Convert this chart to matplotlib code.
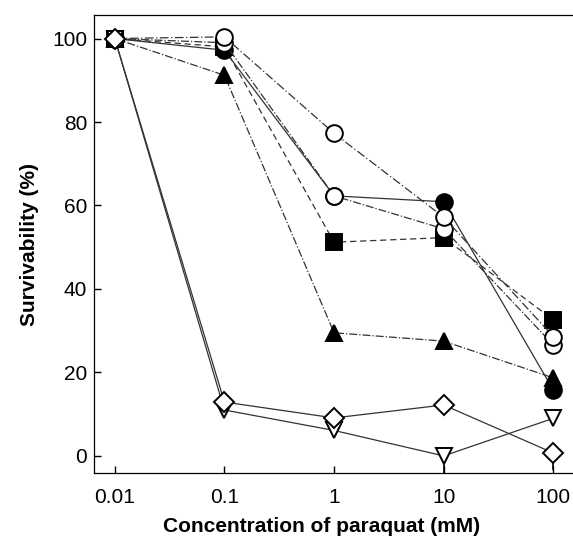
import numpy as np
import matplotlib
matplotlib.use("Agg")
import matplotlib.pyplot as plt

plt.rcParams['font.family'] = ['Liberation Sans', 'DejaVu Sans']

# paraquat concentration (mM)
conc = [0.01, 0.1, 1, 10, 100]
xticklabels = ['0.01', '0.1', '1', '10', '100']

# survivability (%) for each strain
filled_circle = [100, 97.2, 62.3, 60.9, 15.8]
open_circle_a = [100, 99.0, 62.3, 54.4, 26.6]
open_circle_b = [100, 100.4, 77.3, 57.2, 28.6]
filled_square = [100, 98.0, 51.2, 52.3, 32.6]
filled_triangle = [100, 91.2, 29.5, 27.5, 18.7]
open_diamond = [100, 12.9, 9.1, 12.2, 0.7]
open_down_tri = [100, 11.0, 6.1, 0.0, 9.0]

# lower error bars (only those visible)
diamond_err_low = [0, 0, 0, 0, 4]
down_tri_err_low = [0, 0, 0, 4, 0]

fig = plt.figure(figsize=(5.73, 5.38), dpi=100)
ax = fig.add_axes([0.164, 0.1208, 0.836, 0.851])

line_kw = dict(color='0.2', lw=0.9, mec='black', mew=1.4)

ax.plot(conc, filled_square, ls=(0, (5, 3)), marker='s', ms=11, mfc='black', zorder=3, **line_kw)
ax.plot(conc, filled_circle, ls='-', marker='o', ms=12, mfc='black', zorder=3, **line_kw)
ax.plot(conc, filled_triangle, ls='-.', marker='^', ms=12, mfc='black', zorder=3, **line_kw)
ax.plot(conc, open_circle_a, ls='-.', marker='o', ms=12, mfc='white', zorder=4, **line_kw)
ax.plot(conc, open_circle_b, ls=(0, (7, 2, 1, 2)), marker='o', ms=12, mfc='white', zorder=4, **line_kw)
ax.errorbar(conc, open_down_tri, yerr=[down_tri_err_low, [0] * 5], ls='-', marker='v', ms=11,
            mfc='white', ecolor='black', elinewidth=1.2, capsize=0, zorder=4, **line_kw)
ax.errorbar(conc, open_diamond, yerr=[diamond_err_low, [0] * 5], ls='-', marker='D', ms=10,
            mfc='white', ecolor='black', elinewidth=1.2, capsize=0, zorder=5, **line_kw)

ax.set_xscale('log')
ax.set_xlim(10 ** -2.19, 10 ** 2.18)
ax.set_ylim(-4.1, 105.6)
ax.set_xticks(conc)
ax.set_xticklabels(xticklabels)
ax.set_yticks([0, 20, 40, 60, 80, 100])
ax.minorticks_off()
ax.tick_params(axis='x', direction='in', length=5, width=1, labelsize=15, pad=11)
ax.tick_params(axis='y', direction='in', length=5, width=1, labelsize=15, pad=5)

ax.spines['right'].set_visible(False)
for s in ['left', 'bottom', 'top']:
    ax.spines[s].set_linewidth(0.9)

ax.set_xlabel('Concentration of paraquat (mM)', fontsize=15, fontweight='bold')
ax.set_ylabel('Survivability (%)', fontsize=15, fontweight='bold', labelpad=9)
ax.xaxis.set_label_coords(0.476, -0.097)

fig.savefig('out.png', dpi=100)
